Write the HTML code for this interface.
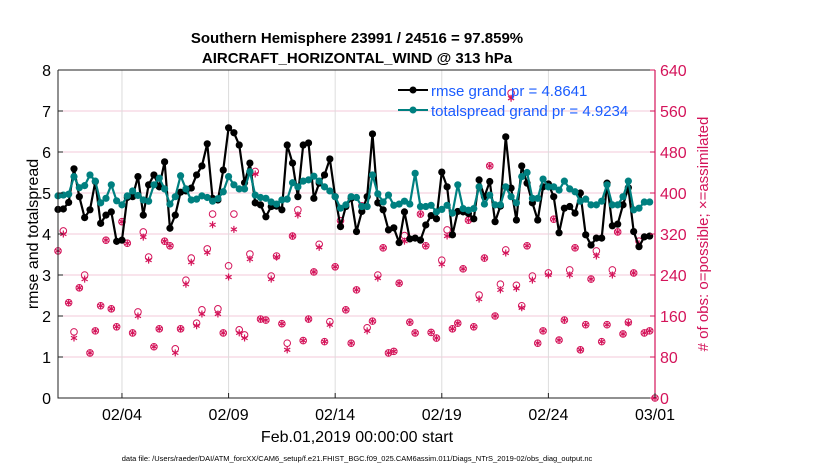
<!DOCTYPE html>
<html><head><meta charset="utf-8"><style>
body{margin:0;background:#fff}
svg text{font-family:"Liberation Sans",sans-serif}
</style></head><body>
<svg id="chart" width="830" height="470" xmlns="http://www.w3.org/2000/svg">
<g id="grid"></g><g id="marks"></g><g id="axes"></g>
<text x="357" y="43" font-size="15" font-weight="bold" text-anchor="middle">Southern Hemisphere 23991 / 24516 = 97.859%</text>
<text x="357" y="63" font-size="15" font-weight="bold" text-anchor="middle">AIRCRAFT_HORIZONTAL_WIND @ 313 hPa</text>
<text x="357" y="442" font-size="16" text-anchor="middle">Feb.01,2019 00:00:00 start</text>
<text transform="translate(38,234) rotate(-90)" font-size="16" text-anchor="middle">rmse and totalspread</text>
<text transform="translate(708,234) rotate(-90)" font-size="15" fill="#d4145a" text-anchor="middle"># of obs: o=possible; ×=assimilated</text>
<text x="357" y="461" font-size="7.5" text-anchor="middle">data file: /Users/raeder/DAI/ATM_forcXX/CAM6_setup/f.e21.FHIST_BGC.f09_025.CAM6assim.011/Diags_NTrS_2019-02/obs_diag_output.nc</text>
<g>
<line x1="398" y1="90" x2="428" y2="90" stroke="#000" stroke-width="2"/><circle cx="413" cy="90" r="3.5" fill="#000"/>
<text x="431" y="96" font-size="15" fill="#1a5cff">rmse grand pr = 4.8641</text>
<line x1="398" y1="110" x2="428" y2="110" stroke="#008080" stroke-width="2"/><circle cx="413" cy="110" r="3.5" fill="#008080"/>
<text x="431" y="116" font-size="15" fill="#1a5cff">totalspread grand pr = 4.9234</text>
</g>
</svg>
<script>
const rmse=[4.60,4.61,4.77,5.59,4.91,4.40,4.59,5.28,4.26,4.46,4.54,3.82,3.85,4.89,4.91,5.40,4.46,5.20,5.44,5.15,5.76,4.14,4.46,5.02,5.05,5.12,5.44,5.66,6.2,4.87,4.83,5.56,6.59,6.47,6.17,5.25,5.73,4.76,4.71,4.42,4.67,4.68,4.59,6.17,5.73,4.91,6.17,6.22,4.87,5.24,5.44,5.83,4.91,4.18,4.67,4.87,4.06,4.55,4.91,6.44,4.76,4.59,4.1,4.15,3.79,4.54,3.88,3.9,3.85,4.22,4.45,4.37,5.51,5.15,3.98,4.55,4.54,4.5,4.37,5.32,4.91,5.28,4.3,4.68,6.37,5.12,4.34,5.66,5.24,4.76,4.34,5.15,5.22,4.91,4.03,4.63,4.67,4.51,5.0,3.98,3.73,3.9,3.9,5.24,4.2,4.24,4.71,5.13,4.06,3.69,3.93,3.95];
const spread=[4.93,4.95,4.97,5.4,5.13,5.18,5.44,5.29,4.76,4.87,5.2,4.81,4.71,4.93,5.05,4.94,4.83,4.8,5.2,5.36,5.1,4.73,4.91,5.42,5.1,4.83,4.85,4.93,4.89,4.8,4.86,5.03,5.4,5.2,5.1,5.1,5.52,4.95,4.89,4.87,4.78,4.73,4.83,4.85,5.25,5.15,5.29,5.32,5.41,5.29,5.15,5.05,4.91,4.63,4.71,4.91,4.89,4.67,4.67,5.44,4.98,4.78,4.95,4.7,4.73,4.8,4.73,5.48,4.67,4.67,4.7,4.54,4.6,4.7,4.51,5.2,4.62,4.58,4.62,5.15,4.73,4.95,4.71,4.71,5.15,4.91,4.76,5.4,5.5,4.87,4.87,5.34,5.15,5.15,5.07,5.29,5.1,5.03,4.8,4.85,4.71,4.71,4.8,5.2,4.71,4.71,4.91,5.29,4.59,4.63,4.78,4.78];
const possible=[287,326,186,129,215,240,88,131,180,308,174,139,344,302,127,168,324,275,100,135,306,297,96,135,230,273,146,172,291,359,174,127,258,359,133,123,281,442,154,152,238,277,145,107,316,367,112,154,246,300,110,149,256,346,172,107,211,375,137,150,240,293,88,91,224,317,148,127,359,297,128,117,269,328,135,146,252,347,139,201,273,453,160,222,289,595,220,180,297,238,107,131,244,349,113,152,250,293,94,143,232,287,110,143,250,324,125,148,244,306,127,131,0];
const assimilated=[287,320,186,117,215,232,88,131,180,308,174,139,344,302,127,160,314,269,100,135,306,297,88,135,222,265,141,164,284,338,164,127,236,329,127,117,271,437,154,152,232,275,145,94,316,357,112,154,246,294,110,143,256,341,172,107,211,375,131,150,234,293,88,91,224,306,148,127,359,297,128,117,261,316,135,146,252,347,139,193,273,453,160,211,283,585,214,176,297,230,107,131,240,349,113,152,240,293,94,143,232,277,110,143,240,324,125,146,244,301,127,131,0];
const leftTicks=[0,1,2,3,4,5,6,7,8];
const rightTicks=[0,80,160,240,320,400,480,560,640];
const xTickDays=[3,8,13,18,23,28];
const xTickLabels=["02/04","02/09","02/14","02/19","02/24","03/01"];
const stepDays=0.25;

const X0=58,X1=655,Y0=398,Y1=70,NS="http://www.w3.org/2000/svg";
const xs=d=>X0+d/28*(X1-X0);
const yl=v=>Y0-v/8*(Y0-Y1);
const yr=n=>Y0-n/640*(Y0-Y1);
const grid=document.getElementById('grid'),marks=document.getElementById('marks'),axes=document.getElementById('axes');
function mk(tag,attrs,parent){const e=document.createElementNS(NS,tag);for(const k in attrs)e.setAttribute(k,attrs[k]);parent.appendChild(e);return e;}
let e;
e=mk('rect',{x:X0,y:Y1,width:X1-X0,height:Y0-Y1,fill:'#fff'},grid);


rightTicks.forEach(n=>{if(n>0&&n<640){e=mk('line',{x1:X0,x2:X1,y1:yr(n),y2:yr(n),stroke:'#f3c9d8','stroke-width':1},grid);

}});
xTickDays.forEach(d=>{e=mk('line',{x1:xs(d),x2:xs(d),y1:Y1,y2:Y0,stroke:'#dcdcdc','stroke-width':1},grid);

});
// obs possible circles
possible.forEach((n,i)=>{e=mk('circle',{cx:xs(i*stepDays),cy:yr(n),r:3.3,fill:'none',stroke:'#d4145a','stroke-width':1},marks);

});
assimilated.forEach((n,i)=>{const x=xs(i*stepDays),y=yr(n),r=3.5,a=r*0.87,b=r*0.5;
e=mk('path',{d:`M${x} ${y-r}V${y+r}M${x-a} ${y-b}L${x+a} ${y+b}M${x-a} ${y+b}L${x+a} ${y-b}`,stroke:'#d4145a','stroke-width':1.2,fill:'none'},marks);

});
function series(arr,color,name){
 e=mk('polyline',{points:arr.map((v,i)=>xs(i*stepDays)+','+yl(v)).join(' '),fill:'none',stroke:color,'stroke-width':2.2,'stroke-linejoin':'round'},marks);
 
 
 arr.forEach((v,i)=>{e=mk('circle',{cx:xs(i*stepDays),cy:yl(v),r:3.6,fill:color},marks);
 
 });
}
series(rmse,'#000','rmse');
series(spread,'#008080','totalspread');
// axes
e=mk('path',{d:`M${X0} ${Y1}V${Y0}H${X1}`,stroke:'#222','stroke-width':1,fill:'none'},axes);


e=mk('line',{x1:X1,x2:X1,y1:Y1,y2:Y0,stroke:'#d4145a','stroke-width':1.2},axes);


e=mk('line',{x1:X0,x2:X1,y1:Y1,y2:Y1,stroke:'#222','stroke-width':1},axes);


leftTicks.forEach(v=>{mk('line',{x1:X0,x2:X0+5,y1:yl(v),y2:yl(v),stroke:'#222'},axes);
 e=mk('text',{x:X0-7,y:yl(v)+6,'font-size':16,'text-anchor':'end'},axes);e.textContent=v;
 
 });
rightTicks.forEach(n=>{mk('line',{x1:X1-5,x2:X1,y1:yr(n),y2:yr(n),stroke:'#d4145a'},axes);
 e=mk('text',{x:X1+5,y:yr(n)+6,'font-size':16,fill:'#d4145a'},axes);e.textContent=n;
 
 });
xTickDays.forEach((d,i)=>{mk('line',{x1:xs(d),x2:xs(d),y1:Y0,y2:Y0-5,stroke:'#222'},axes);
 e=mk('text',{x:xs(d),y:Y0+22,'font-size':16,'text-anchor':'middle'},axes);e.textContent=xTickLabels[i];
 
 });
</script>
</body></html>
